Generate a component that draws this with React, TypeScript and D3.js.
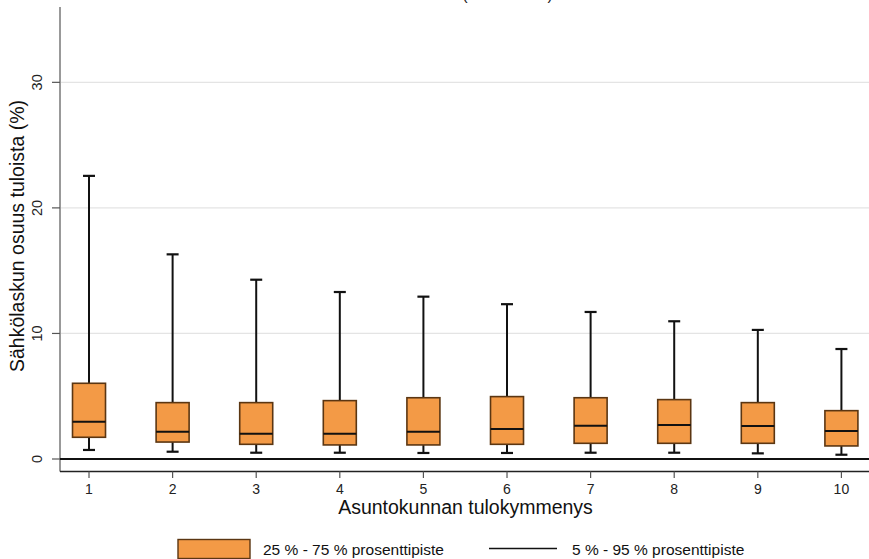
import React, { useEffect, useRef } from "react";
import * as d3 from "d3";

const deciles = [1, 2, 3, 4, 5, 6, 7, 8, 9, 10];
const p5 = [0.72, 0.58, 0.5, 0.5, 0.48, 0.48, 0.5, 0.5, 0.45, 0.34];
const p25 = [1.73, 1.35, 1.17, 1.12, 1.12, 1.17, 1.25, 1.25, 1.25, 1.04];
const median = [2.97, 2.18, 2.02, 2.02, 2.18, 2.39, 2.65, 2.71, 2.63, 2.23];
const p75 = [6.03, 4.49, 4.49, 4.65, 4.88, 4.97, 4.88, 4.73, 4.49, 3.85];
const p95 = [22.55, 16.3, 14.28, 13.3, 12.93, 12.33, 11.71, 10.97, 10.28, 8.76];
const yTicks = [0, 10, 20, 30];
const titleText = "(2022–2023)";
const xTitle = "Asuntokunnan tulokymmenys";
const yTitle = "Sähkölaskun osuus tuloista (%)";
const legendBox = "25 % - 75 % prosenttipiste";
const legendLine = "5 % - 95 % prosenttipiste";

const W = 869;
const H = 559;
const FONT = "Liberation Sans, Arial, sans-serif";
const FILL = "#F39A46";
const EDGE = "#5b3612";

export default function App() {
  const ref = useRef<SVGSVGElement>(null);
  useEffect(() => {
    const svg = d3.select(ref.current);
    svg.selectAll("*").remove();
    const x = d3.scaleLinear().domain([0.653, 10.33]).range([60, 869]);
    const y = d3.scaleLinear().domain([0, 36]).range([459, 7]);
    const bw = 33;

    // title (mostly above view)
    svg.append("text").attr("x", 507.5).attr("y", 0).attr("text-anchor", "middle")
      .attr("font-family", FONT).attr("font-size", 16).attr("fill", "#222").text(titleText);

    // gridlines
    svg.append("g").selectAll("line").data(yTicks.filter(d => d > 0)).join("line")
      .attr("x1", 61).attr("x2", W).attr("y1", d => y(d)).attr("y2", d => y(d))
      .attr("stroke", "#e4e4e4").attr("stroke-width", 1.2);

    // left axis
    svg.append("line").attr("x1", 60).attr("x2", 60).attr("y1", 7).attr("y2", 471.5)
      .attr("stroke", "#555").attr("stroke-width", 1.2);
    svg.append("g").selectAll("line").data(yTicks).join("line")
      .attr("x1", 52).attr("x2", 60).attr("y1", d => y(d)).attr("y2", d => y(d))
      .attr("stroke", "#555").attr("stroke-width", 1.2);
    svg.append("g").selectAll("text").data(yTicks).join("text")
      .attr("transform", d => `translate(41.5,${y(d)}) rotate(-90)`)
      .attr("text-anchor", "middle").attr("font-family", FONT).attr("font-size", 14.5)
      .attr("fill", "#222").text(d => String(d));
    svg.append("text").attr("transform", `translate(24,236) rotate(-90)`)
      .attr("text-anchor", "middle").attr("font-family", FONT).attr("font-size", 19.5)
      .attr("fill", "#111").text(yTitle);

    // bottom axis
    svg.append("line").attr("x1", 60).attr("x2", W).attr("y1", 471.5).attr("y2", 471.5)
      .attr("stroke", "#222").attr("stroke-width", 1.4);
    svg.append("g").selectAll("line").data(deciles).join("line")
      .attr("x1", d => x(d)).attr("x2", d => x(d)).attr("y1", 471.5).attr("y2", 478)
      .attr("stroke", "#555").attr("stroke-width", 1.2);
    svg.append("g").selectAll("text").data(deciles).join("text")
      .attr("x", d => x(d)).attr("y", 494).attr("text-anchor", "middle")
      .attr("font-family", FONT).attr("font-size", 14).attr("fill", "#222").text(d => String(d));
    svg.append("text").attr("x", 465.5).attr("y", 514).attr("text-anchor", "middle")
      .attr("font-family", FONT).attr("font-size", 19.5).attr("fill", "#111").text(xTitle);

    // zero line
    svg.append("line").attr("x1", 60).attr("x2", W).attr("y1", y(0)).attr("y2", y(0))
      .attr("stroke", "#111").attr("stroke-width", 1.8);

    // boxes
    const g = svg.append("g");
    deciles.forEach((d, i) => {
      const cx = x(d);
      g.append("line").attr("x1", cx).attr("x2", cx).attr("y1", y(p95[i])).attr("y2", y(p75[i]))
        .attr("stroke", "#111").attr("stroke-width", 2);
      g.append("line").attr("x1", cx).attr("x2", cx).attr("y1", y(p25[i])).attr("y2", y(p5[i]))
        .attr("stroke", "#111").attr("stroke-width", 2);
      g.append("line").attr("x1", cx - 6).attr("x2", cx + 6).attr("y1", y(p95[i])).attr("y2", y(p95[i]))
        .attr("stroke", "#111").attr("stroke-width", 2.2);
      g.append("line").attr("x1", cx - 6).attr("x2", cx + 6).attr("y1", y(p5[i])).attr("y2", y(p5[i]))
        .attr("stroke", "#111").attr("stroke-width", 2.2);
      g.append("rect").attr("x", cx - bw / 2).attr("width", bw)
        .attr("y", y(p75[i])).attr("height", y(p25[i]) - y(p75[i]))
        .attr("fill", FILL).attr("stroke", EDGE).attr("stroke-width", 1.6);
      g.append("line").attr("x1", cx - bw / 2).attr("x2", cx + bw / 2)
        .attr("y1", y(median[i])).attr("y2", y(median[i]))
        .attr("stroke", "#111").attr("stroke-width", 2);
    });

    // legend
    svg.append("rect").attr("x", 178).attr("y", 539.5).attr("width", 72).attr("height", 19)
      .attr("fill", FILL).attr("stroke", EDGE).attr("stroke-width", 1.4);
    svg.append("text").attr("x", 263).attr("y", 555).attr("font-family", FONT)
      .attr("font-size", 15.5).attr("fill", "#111").text(legendBox);
    svg.append("line").attr("x1", 489).attr("x2", 557).attr("y1", 548.5).attr("y2", 548.5)
      .attr("stroke", "#111").attr("stroke-width", 1.6);
    svg.append("text").attr("x", 572).attr("y", 555).attr("font-family", FONT)
      .attr("font-size", 15.5).attr("fill", "#111").text(legendLine);
  }, []);
  return (
    <svg ref={ref} width={W} height={H}
      style={{ position: "absolute", left: 0, top: 0, background: "#fff" }} />
  );
}
